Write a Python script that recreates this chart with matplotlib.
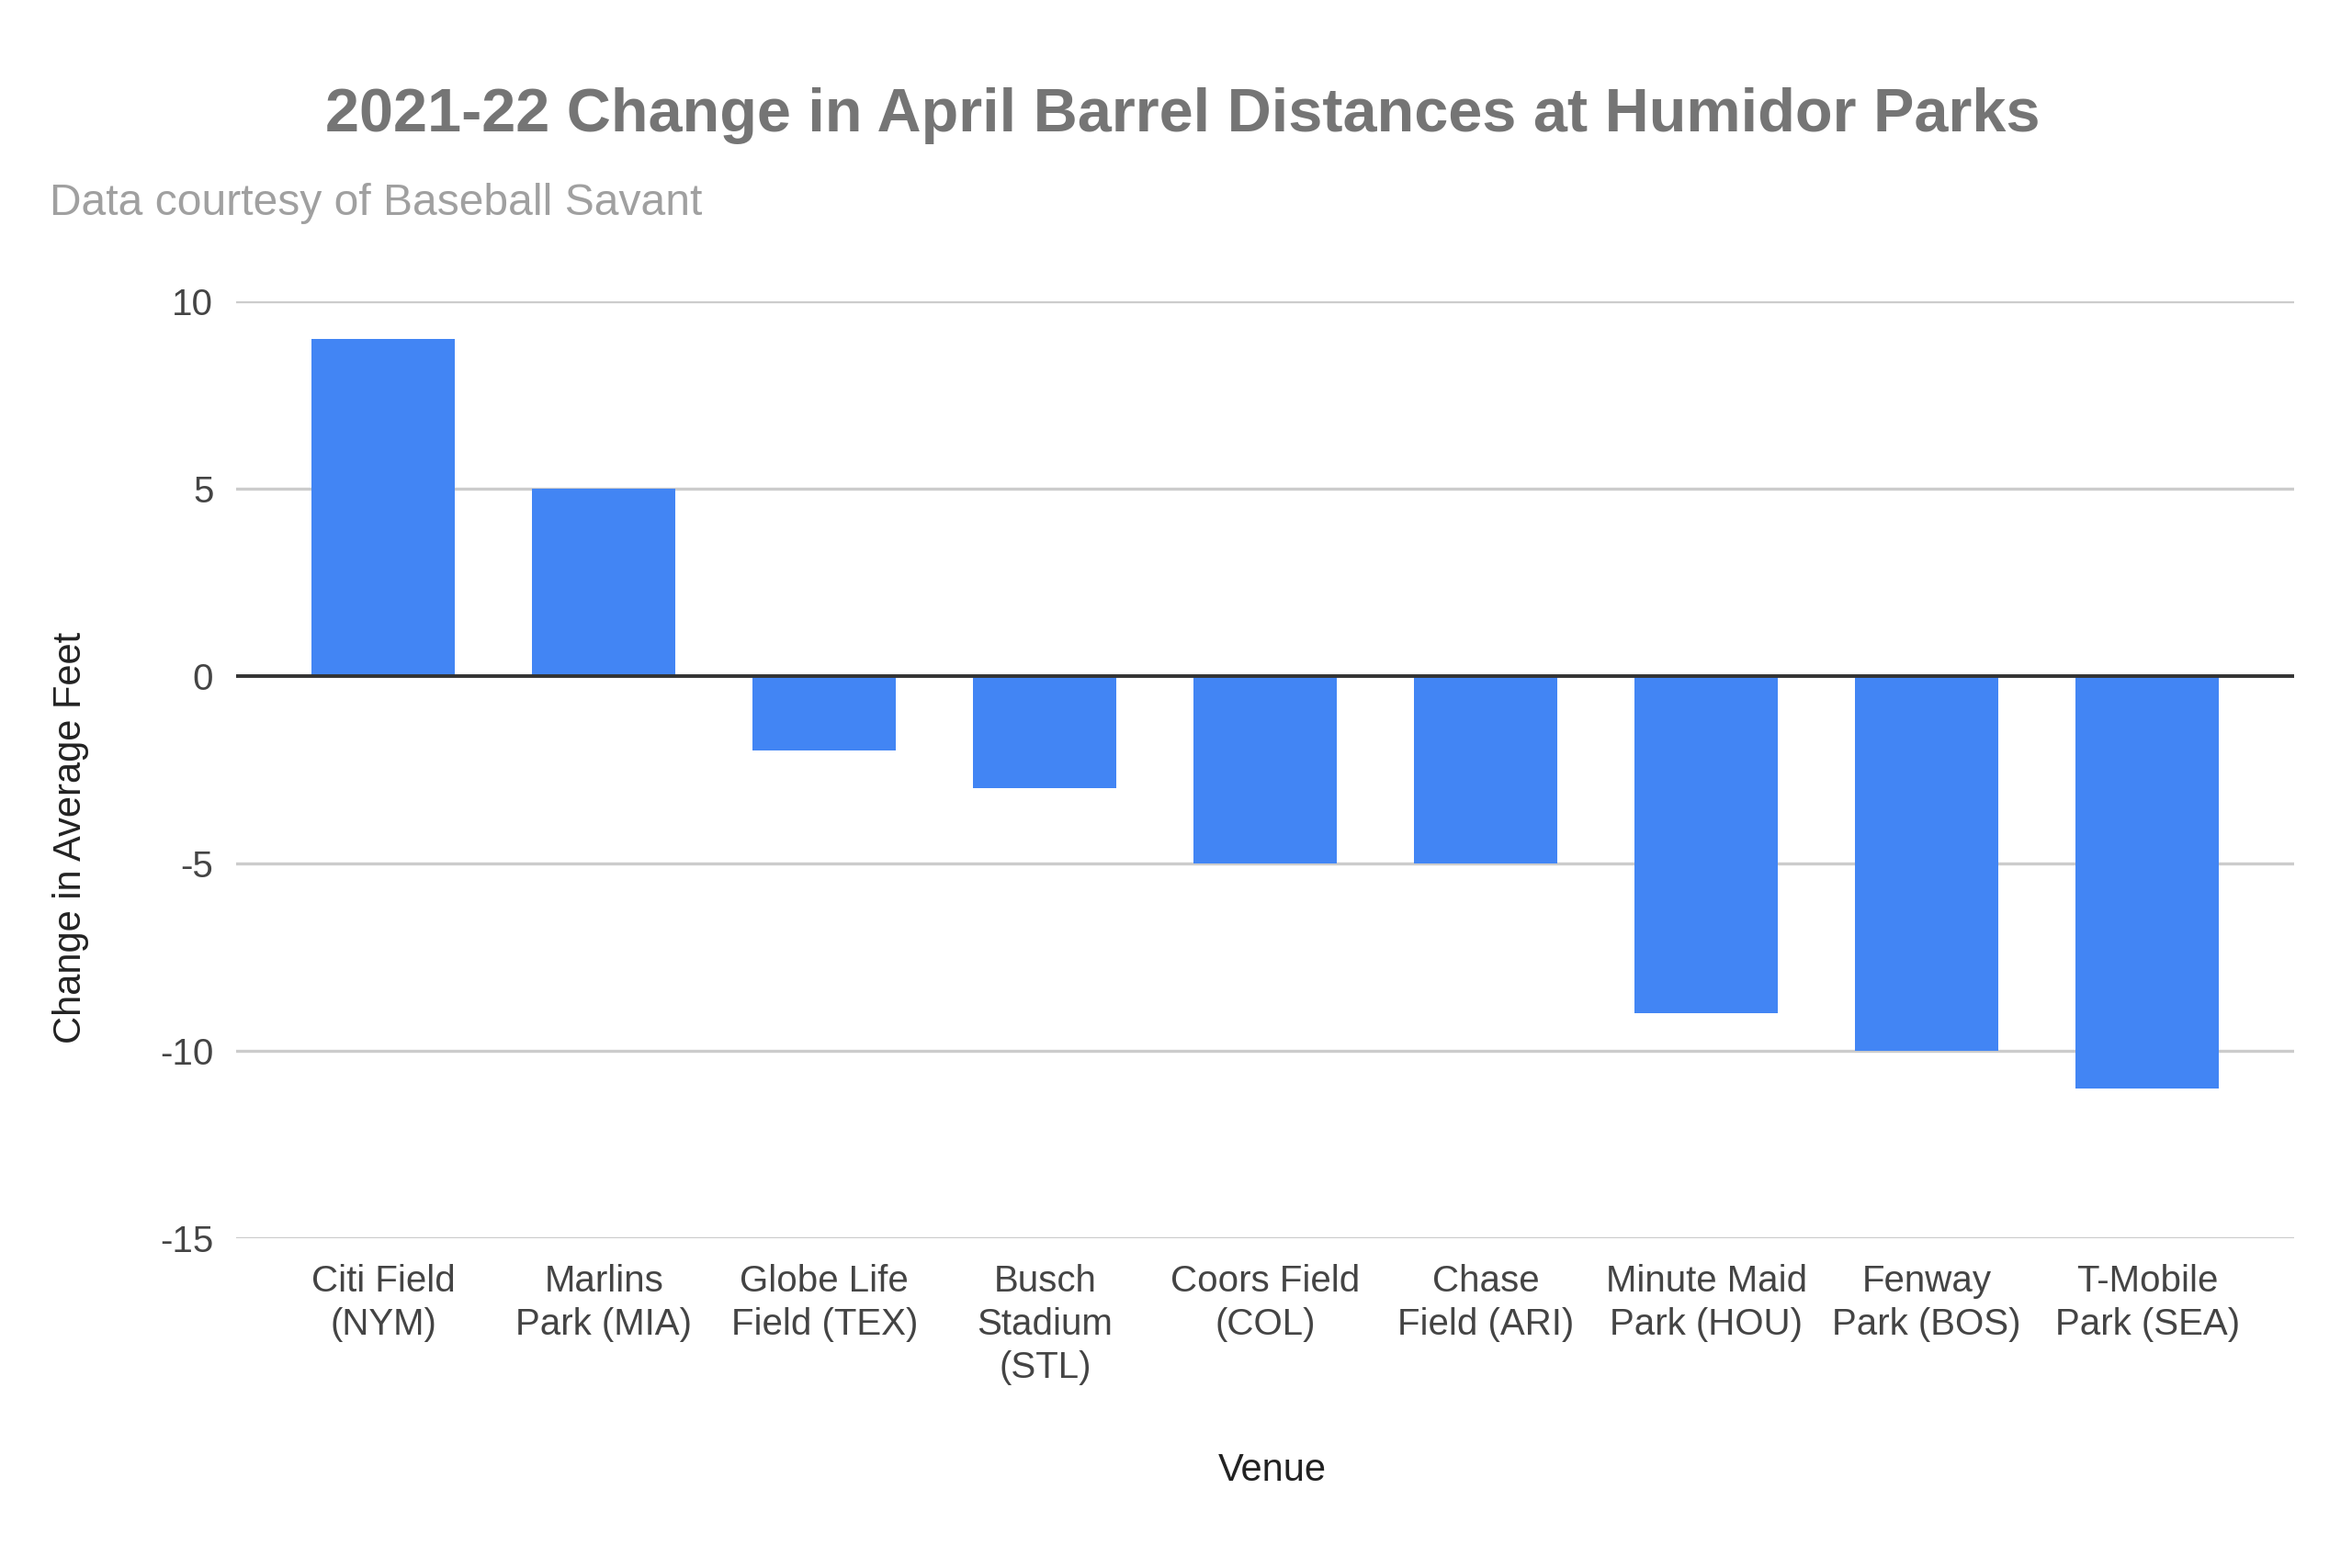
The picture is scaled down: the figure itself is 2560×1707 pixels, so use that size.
import matplotlib.pyplot as plt

plt.rcParams['font.family'] = ['Liberation Sans', 'DejaVu Sans']

venues = ['Citi Field\n(NYM)', 'Marlins\nPark (MIA)', 'Globe Life\nField (TEX)',
          'Busch\nStadium\n(STL)', 'Coors Field\n(COL)', 'Chase\nField (ARI)',
          'Minute Maid\nPark (HOU)', 'Fenway\nPark (BOS)', 'T-Mobile\nPark (SEA)']
change_ft = [9, 5, -2, -3, -5, -5, -9, -10, -11]
y_ticks = [-15, -10, -5, 0, 5, 10]

fig = plt.figure(figsize=(12.8, 8.535), dpi=200)
ax = fig.add_axes([0.1005, 0.2103, 0.875, 0.5977])

x = range(len(venues))
ax.bar(x, change_ft, width=0.65, color='#4285F4', zorder=3)

ax.set_xlim(-0.667, len(venues) - 1 + 0.667)
ax.set_ylim(-15, 10)
ax.set_yticks(y_ticks)
ax.set_yticklabels([str(t) for t in y_ticks])
ax.set_xticks(list(x))
ax.set_xticklabels(venues, linespacing=1.3)

ax.grid(axis='y', color='#cccccc', linewidth=1.2, zorder=0)
ax.axhline(0, color='#333333', linewidth=1.4, zorder=4)
for s in ax.spines.values():
    s.set_visible(False)
ax.tick_params(axis='both', length=0, labelsize=14.5, colors='#444444')
ax.tick_params(axis='y', pad=9)
ax.tick_params(axis='x', pad=10)

fig.text(0.503, 0.926, '2021-22 Change in April Barrel Distances at Humidor Parks',
         ha='center', va='center', fontsize=24, fontweight='bold', color='#757575')
fig.text(0.021, 0.870, 'Data courtesy of Baseball Savant',
         ha='left', va='center', fontsize=17.3, color='#a0a0a0')
fig.text(0.030, 0.466, 'Change in Average Feet', rotation=90,
         ha='center', va='center', fontsize=15, color='#222222')
fig.text(0.541, 0.062, 'Venue', ha='center', va='center', fontsize=15, color='#222222')

fig.savefig('out.png', dpi=200, facecolor='white')
